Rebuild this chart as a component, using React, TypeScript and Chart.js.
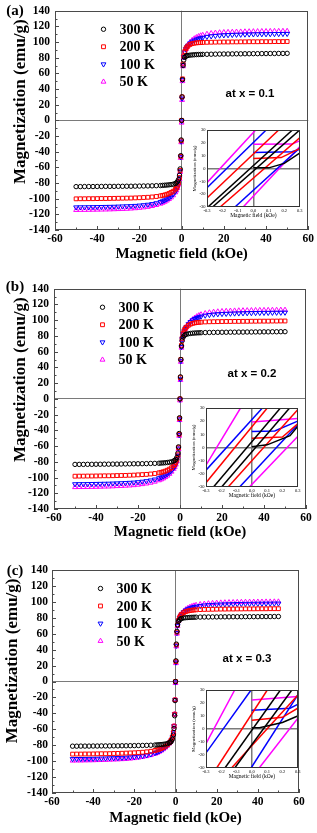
import React, { useEffect, useRef } from "react";
import { Chart, registerables } from "chart.js";

Chart.register(...registerables);

// ---------------- DATA ----------------
const TEMPS = ["300 K", "200 K", "100 K", "50 K"];

// magnetic field (kOe), shared by every main-panel series
const FIELD_KOE = [
  -50, -48, -46, -44, -42, -40, -38, -36,
  -34, -32, -30, -28, -26, -24, -22, -20,
  -18, -16, -14, -12, -10, -9, -8, -7,
  -6, -5, -4, -3, -2.5, -2, -1.5, -1,
  -0.7, -0.4, -0.2, 0, 0.2, 0.4, 0.7,
  1, 1.5, 2, 2.5, 3, 4, 5, 6,
  7, 8, 9, 10, 12, 14, 16, 18,
  20, 22, 24, 26, 28, 30, 32, 34,
  36, 38, 40, 42, 44, 46, 48, 50,
];

// (a) x = 0.1, magnetization (emu/g)
const M_A_300K = [
  -84.6, -84.6, -84.5, -84.5, -84.5, -84.4, -84.4, -84.3,
  -84.3, -84.3, -84.2, -84.2, -84.1, -84.1, -84.0, -83.9,
  -83.8, -83.7, -83.6, -83.4, -83.2, -83.0, -82.8, -82.6,
  -82.3, -82.0, -81.5, -80.6, -79.8, -78.4, -75.8, -70,
  -62, -45, -25, 0, 30, 52, 70,
  77, 80.5, 82, 82.5, 83, 83.3, 83.6, 83.8,
  84, 84.1, 84.2, 84.3, 84.4, 84.5, 84.6, 84.7,
  84.8, 84.8, 84.9, 85, 85, 85.1, 85.1, 85.2,
  85.2, 85.3, 85.3, 85.4, 85.4, 85.5, 85.5, 85.6,
];
const M_A_200K = [
  -100.2, -100.1, -100.1, -100, -100, -99.9, -99.8, -99.8,
  -99.7, -99.6, -99.5, -99.4, -99.3, -99.2, -99, -98.8,
  -98.5, -98.2, -97.8, -97.2, -96.4, -95.8, -95.2, -94.4,
  -93.4, -92, -90.5, -88, -86.5, -84, -80, -73,
  -64, -46, -26, 0, 30, 53, 72,
  82, 88, 91.5, 93.5, 95, 97, 98, 98.6,
  99, 99.2, 99.4, 99.5, 99.7, 99.8, 99.9, 100,
  100.1, 100.1, 100.2, 100.2, 100.3, 100.3, 100.4, 100.4,
  100.4, 100.5, 100.5, 100.5, 100.6, 100.6, 100.6, 100.7,
];
const M_A_100K = [
  -111, -110.9, -110.9, -110.8, -110.7, -110.6, -110.5, -110.4,
  -110.3, -110.2, -110, -109.8, -109.6, -109.4, -109.1, -108.7,
  -108.2, -107.6, -106.8, -105.7, -104.2, -103.2, -102, -100.6,
  -99, -97, -94.5, -91, -88.5, -85.5, -81, -74,
  -65, -47, -27, -1, 28, 52, 71,
  81, 87, 91, 93.5, 95.5, 98.5, 100.5, 102,
  103.3, 104.3, 105, 105.7, 106.8, 107.5, 108, 108.5,
  108.8, 109, 109.3, 109.5, 109.6, 109.8, 109.9, 110,
  110.1, 110.2, 110.2, 110.3, 110.4, 110.4, 110.5, 110.6,
];
const M_A_50K = [
  -114.5, -114.4, -114.4, -114.3, -114.2, -114.1, -114, -113.9,
  -113.8, -113.6, -113.4, -113.2, -113, -112.7, -112.3, -111.8,
  -111.2, -110.5, -109.5, -108.2, -106.5, -105.3, -104, -102.5,
  -100.6, -98.5, -95.8, -92, -89.5, -86.5, -82, -75,
  -66, -48, -28, -3, 26, 50, 69,
  80, 87, 91, 94, 96.5, 100, 102.5, 104.5,
  106, 107.3, 108.3, 109, 110.3, 111.2, 111.8, 112.2,
  112.5, 112.7, 112.9, 113.1, 113.2, 113.4, 113.5, 113.6,
  113.7, 113.8, 113.8, 113.9, 114, 114, 114.1, 114.1,
];

// (b) x = 0.2
const M_B_300K = [
  -83.3, -83.3, -83.3, -83.2, -83.2, -83.1, -83.1, -83.0,
  -83, -82.9, -82.9, -82.8, -82.7, -82.6, -82.5, -82.5,
  -82.4, -82.3, -82.1, -82, -81.8, -81.6, -81.4, -81.2,
  -80.9, -80.5, -80, -79, -78.2, -77, -74.5, -69,
  -61, -44, -24, 0, 28, 50, 67,
  74, 78.5, 80.5, 81.5, 82.2, 82.8, 83.2, 83.5,
  83.7, 83.9, 84, 84.1, 84.3, 84.4, 84.5, 84.6,
  84.7, 84.7, 84.8, 84.8, 84.9, 84.9, 85, 85,
  85.1, 85.1, 85.2, 85.2, 85.3, 85.3, 85.4, 85.4,
];
const M_B_200K = [
  -98.3, -98.2, -98.2, -98.1, -98.1, -98, -97.9, -97.8,
  -97.8, -97.7, -97.5, -97.4, -97.3, -97.1, -96.9, -96.6,
  -96.3, -96, -95.5, -94.9, -94, -93.4, -92.7, -91.8,
  -90.7, -89.3, -87.5, -85, -83.4, -81, -77.5, -71,
  -62, -45, -25, 0, 27, 50, 68,
  77, 83.5, 87, 89.5, 91.2, 93.5, 95, 96,
  96.6, 97, 97.3, 97.5, 97.8, 98, 98.1, 98.2,
  98.3, 98.4, 98.4, 98.5, 98.5, 98.6, 98.6, 98.7,
  98.7, 98.8, 98.8, 98.8, 98.9, 98.9, 99, 99,
];
const M_B_100K = [
  -108.4, -108.3, -108.3, -108.2, -108.1, -108, -107.9, -107.8,
  -107.7, -107.5, -107.3, -107.1, -106.9, -106.6, -106.3, -105.8,
  -105.2, -104.5, -103.6, -102.4, -100.8, -99.8, -98.6, -97.2,
  -95.5, -93.5, -91, -87.8, -85.6, -82.8, -78.8, -72,
  -63, -46, -26, -1, 25, 48, 66,
  76, 82.5, 86, 89, 91.3, 95, 97.8, 100,
  101.7, 103, 104, 104.8, 106, 106.8, 107.4, 107.8,
  108.1, 108.3, 108.5, 108.7, 108.8, 109, 109.1, 109.2,
  109.3, 109.4, 109.5, 109.5, 109.6, 109.7, 109.7, 109.8,
];
const M_B_50K = [
  -112.3, -112.2, -112.2, -112.1, -112, -111.9, -111.8, -111.6,
  -111.5, -111.3, -111, -110.8, -110.5, -110.2, -109.8, -109.2,
  -108.5, -107.7, -106.7, -105.4, -103.6, -102.5, -101.2, -99.6,
  -97.7, -95.4, -92.6, -89, -86.6, -83.6, -79.5, -73,
  -64, -47, -27, -2, 24, 47, 65,
  75, 82, 86, 89, 91.5, 95.5, 98.5, 101,
  103, 104.8, 106.2, 107.3, 108.8, 109.8, 110.5, 111,
  111.4, 111.7, 111.9, 112.1, 112.3, 112.4, 112.5, 112.6,
  112.7, 112.8, 112.8, 112.9, 113, 113, 113.1, 113.1,
];

// (c) x = 0.3
const M_C_300K = [
  -81.2, -81.2, -81.1, -81.1, -81.1, -81, -81, -80.9,
  -80.9, -80.9, -80.8, -80.8, -80.7, -80.7, -80.6, -80.5,
  -80.4, -80.3, -80.2, -80, -79.8, -79.6, -79.4, -79.2,
  -78.9, -78.5, -78, -77, -76.2, -75, -72.5, -67,
  -59, -43, -24, 0, 26, 47, 63,
  71, 75.5, 77.5, 78.5, 79.2, 79.8, 80.1, 80.3,
  80.5, 80.6, 80.7, 80.8, 80.9, 81, 81, 81.1,
  81.1, 81.2, 81.2, 81.2, 81.3, 81.3, 81.3, 81.4,
  81.4, 81.4, 81.4, 81.5, 81.5, 81.5, 81.6, 81.6,
];
const M_C_200K = [
  -91.2, -91.1, -91.1, -91, -91, -90.9, -90.8, -90.7,
  -90.7, -90.6, -90.4, -90.3, -90.1, -89.9, -89.7, -89.5,
  -89.2, -88.8, -88.3, -87.6, -86.6, -85.9, -85.1, -84.1,
  -82.9, -81.4, -79.5, -77, -75.4, -73.2, -70, -64,
  -56, -41, -23, 0, 25, 46, 62,
  71, 77, 80.5, 82.8, 84.5, 86.5, 87.8, 88.6,
  89.1, 89.5, 89.8, 90, 90.3, 90.5, 90.6, 90.7,
  90.8, 90.9, 90.9, 91, 91, 91.1, 91.1, 91.2,
  91.2, 91.2, 91.3, 91.3, 91.3, 91.4, 91.4, 91.4,
];
const M_C_100K = [
  -97.3, -97.2, -97.2, -97.1, -97, -96.9, -96.8, -96.6,
  -96.5, -96.3, -96.2, -96, -95.7, -95.4, -95.1, -94.8,
  -94.2, -93.5, -92.6, -91.4, -89.8, -88.8, -87.6, -86.2,
  -84.6, -82.6, -80.3, -77.5, -75.8, -73.5, -70, -64,
  -56, -41, -23, -1, 24, 45, 61,
  70, 76.5, 80, 82.5, 84.5, 87.3, 89.3, 90.8,
  92, 92.9, 93.6, 94.2, 95, 95.6, 96, 96.3,
  96.6, 96.8, 97, 97.1, 97.2, 97.4, 97.5, 97.6,
  97.6, 97.7, 97.8, 97.8, 97.9, 97.9, 98, 98,
];
const M_C_50K = [
  -99.4, -99.3, -99.3, -99.2, -99.1, -99, -98.8, -98.7,
  -98.5, -98.3, -98.1, -97.9, -97.6, -97.3, -96.9, -96.3,
  -95.6, -94.8, -93.8, -92.5, -90.8, -89.7, -88.4, -86.9,
  -85.1, -83, -80.6, -77.8, -76, -73.6, -70, -64,
  -56, -41, -23, -2, 23, 44, 60,
  69.5, 76, 80, 82.8, 85, 88.2, 90.5, 92.2,
  93.5, 94.5, 95.3, 96, 96.9, 97.5, 98, 98.4,
  98.7, 99, 99.2, 99.4, 99.5, 99.7, 99.8, 99.9,
  100, 100, 100.1, 100.1, 100.2, 100.2, 100.3, 100.3,
];

// Insets: [field (kOe), magnetization (emu/g)] points of each branch
const INS_A_300K_DESC = [[-0.294, -30], [0.253, 30]];
const INS_A_300K_ASC = [[-0.264, -30], [0.3, 30]];
const INS_A_300K_INIT = [[0, 0.5], [0.1, 0.5], [0.2, 4], [0.3, 12]];
const INS_A_200K_DESC = [[-0.3, -23], [0.164, 30]];
const INS_A_200K_ASC = [[-0.215, -30], [0.3, 24]];
const INS_A_200K_INIT = [[0, 7.8], [0.18, 8.5], [0.3, 15.5]];
const INS_A_100K_DESC = [[-0.3, -15], [0.083, 30]];
const INS_A_100K_ASC = [[-0.119, -30], [0.3, 16]];
const INS_A_100K_INIT = [[0, 12.5], [0.25, 13], [0.3, 15]];
const INS_A_50K_DESC = [[-0.3, -11], [0.015, 30]];
const INS_A_50K_ASC = [[-0.066, -30], [0.3, 17]];
const INS_A_50K_INIT = [[0, 18.8], [0.25, 19], [0.3, 21.5]];

const INS_B_300K_DESC = [[-0.251, -30], [0.187, 30]];
const INS_B_300K_ASC = [[-0.198, -30], [0.247, 30]];
const INS_B_300K_INIT = [[0, 0.6], [0.1, 2], [0.25, 9], [0.3, 16]];
const INS_B_200K_DESC = [[-0.3, -26.7], [0.101, 30]];
const INS_B_200K_ASC = [[-0.155, -30], [0.3, 28.7]];
const INS_B_200K_INIT = [[0, 7], [0.2, 8], [0.3, 18]];
const INS_B_100K_DESC = [[-0.3, -17.2], [0.069, 30]];
const INS_B_100K_ASC = [[-0.08, -30], [0.3, 17.2]];
const INS_B_100K_INIT = [[0, 12.1], [0.15, 12.5], [0.3, 20]];
const INS_B_50K_DESC = [[-0.3, -13.4], [-0.074, 30]];
const INS_B_50K_ASC = [[-0.016, -30], [0.3, 8.3]];
const INS_B_50K_INIT = [[0, 19.3], [0.3, 22]];

const INS_C_300K_DESC = [[-0.176, -30], [0.187, 30]];
const INS_C_300K_ASC = [[-0.112, -30], [0.262, 30]];
const INS_C_300K_INIT = [[0, 0.9], [0.05, 1], [0.2, 5], [0.3, 10]];
const INS_C_200K_DESC = [[-0.23, -30], [0.101, 30]];
const INS_C_200K_ASC = [[-0.133, -30], [0.3, 26]];
const INS_C_200K_INIT = [[0, 6.8], [0.2, 9], [0.3, 16]];
const INS_C_100K_DESC = [[-0.3, -18.4], [-0.005, 30]];
const INS_C_100K_ASC = [[-0.005, -30], [0.3, 26.1]];
const INS_C_100K_INIT = [[0, 14.5], [0.25, 16], [0.3, 19]];
const INS_C_50K_DESC = [[-0.3, -11.2], [-0.112, 30]];
const INS_C_50K_ASC = [[0.048, -30], [0.3, 8.1]];
const INS_C_50K_INIT = [[0, 22.3], [0.3, 25]];

const PANEL_LABELS = ["(a)", "(b)", "(c)"];
const PANEL_NOTES = ["at x = 0.1", "at x = 0.2", "at x = 0.3"];
const MAIN_SERIES = [
  [M_A_300K, M_A_200K, M_A_100K, M_A_50K],
  [M_B_300K, M_B_200K, M_B_100K, M_B_50K],
  [M_C_300K, M_C_200K, M_C_100K, M_C_50K],
];
const INSET_SERIES = [
  [
    [INS_A_300K_DESC, INS_A_300K_ASC, INS_A_300K_INIT],
    [INS_A_200K_DESC, INS_A_200K_ASC, INS_A_200K_INIT],
    [INS_A_100K_DESC, INS_A_100K_ASC, INS_A_100K_INIT],
    [INS_A_50K_DESC, INS_A_50K_ASC, INS_A_50K_INIT],
  ],
  [
    [INS_B_300K_DESC, INS_B_300K_ASC, INS_B_300K_INIT],
    [INS_B_200K_DESC, INS_B_200K_ASC, INS_B_200K_INIT],
    [INS_B_100K_DESC, INS_B_100K_ASC, INS_B_100K_INIT],
    [INS_B_50K_DESC, INS_B_50K_ASC, INS_B_50K_INIT],
  ],
  [
    [INS_C_300K_DESC, INS_C_300K_ASC, INS_C_300K_INIT],
    [INS_C_200K_DESC, INS_C_200K_ASC, INS_C_200K_INIT],
    [INS_C_100K_DESC, INS_C_100K_ASC, INS_C_100K_INIT],
    [INS_C_50K_DESC, INS_C_50K_ASC, INS_C_50K_INIT],
  ],
];

// ---------------- STYLE / LAYOUT ----------------
const SERIF = '"Liberation Serif", "Times New Roman", Times, serif';
const SANS = '"Liberation Sans", Arial, Helvetica, sans-serif';
const COLORS = ["#000000", "#ff0000", "#0000ff", "#ff00ff"];
const MARKERS = [
  { style: "circle", rot: 0, r: 2.2 },
  { style: "rect", rot: 0, r: 2.7 },
  { style: "triangle", rot: 180, r: 2.8 },
  { style: "triangle", rot: 0, r: 2.8 },
];
const FRAME = "#4a4a4a";
const ZERO = "#7a7a7a";

const LAYOUTS = [
  { top: 0, h: 278, yW: 55, pt: 9, pr: 7, pb: 15, xH: 33, yTitlePad: 10.8, yTickPad: 5, label: [15, 11], note: [250, 94],
    inset: { left: 188, top: 126, w: 116, h: 94 } },
  { top: 278, h: 277, yW: 54, pt: 7, pr: 11, pb: 14, xH: 32, yTitlePad: 10.8, yTickPad: 5, label: [15, 9], note: [252, 96],
    inset: { left: 187, top: 404, w: 115, h: 96 } },
  { top: 555, h: 278, yW: 52, pt: 15, pr: 18, pb: 6, xH: 34, yTitlePad: 2.5, yTickPad: 4, label: [15, 16], note: [247, 104],
    inset: { left: 187, top: 686, w: 115, h: 95 } },
];

function drawMarker(ctx, idx, x, y) {
  const m = MARKERS[idx];
  const r = m.r;
  ctx.beginPath();
  ctx.strokeStyle = COLORS[idx];
  ctx.lineWidth = 1;
  if (m.style === "circle") {
    ctx.arc(x, y, r, 0, Math.PI * 2);
  } else if (m.style === "rect") {
    const s = r * Math.SQRT1_2;
    ctx.rect(x - s, y - s, 2 * s, 2 * s);
  } else if (m.rot === 180) {
    ctx.moveTo(x - r * 0.87, y - r * 0.5);
    ctx.lineTo(x + r * 0.87, y - r * 0.5);
    ctx.lineTo(x, y + r);
    ctx.closePath();
  } else {
    ctx.moveTo(x - r * 0.87, y + r * 0.5);
    ctx.lineTo(x + r * 0.87, y + r * 0.5);
    ctx.lineTo(x, y - r);
    ctx.closePath();
  }
  ctx.stroke();
}

function zeroGrid(ctx) {
  return Math.abs(ctx.tick.value) < 1e-9 ? ZERO : "rgba(0,0,0,0)";
}

function mainDecor(panel) {
  const L = LAYOUTS[panel];
  return {
    id: "mainDecor" + panel,
    afterDraw(chart) {
      const { ctx, chartArea: a, scales } = chart;
      const xs = scales.x;
      const ys = scales.y;
      ctx.save();
      // inward ticks
      ctx.strokeStyle = FRAME;
      ctx.lineWidth = 1;
      ctx.beginPath();
      for (let v = -60; v <= 60; v += 10) {
        const px = Math.round(xs.getPixelForValue(v)) + 0.5;
        const len = v % 20 === 0 ? 4 : 2.5;
        ctx.moveTo(px, a.bottom);
        ctx.lineTo(px, a.bottom - len);
      }
      for (let v = -140; v <= 140; v += 10) {
        const py = Math.round(ys.getPixelForValue(v)) + 0.5;
        const len = v % 20 === 0 ? 4 : 2.5;
        ctx.moveTo(a.left, py);
        ctx.lineTo(a.left + len, py);
      }
      ctx.stroke();
      // frame
      ctx.strokeRect(Math.round(a.left) + 0.5, Math.round(a.top) + 0.5,
        Math.round(a.right - a.left) - 1, Math.round(a.bottom - a.top) - 1);
      // legend
      ctx.font = "bold 14px " + SERIF;
      ctx.textAlign = "left";
      ctx.textBaseline = "middle";
      TEMPS.forEach((t, i) => {
        const y = a.top + 18.5 + 17.5 * i;
        drawMarker(ctx, i, a.left + 48.5, y);
        ctx.fillStyle = "#000";
        ctx.fillText(t, a.left + 64.5, y + 1);
      });
      // panel label
      ctx.font = "bold 15px " + SERIF;
      ctx.textAlign = "center";
      ctx.fillText(PANEL_LABELS[panel], L.label[0], L.label[1]);
      // composition note
      ctx.font = "bold 11.5px " + SANS;
      ctx.fillText(PANEL_NOTES[panel], L.note[0], L.note[1]);
      ctx.restore();
    },
  };
}

function mainConfig(panel) {
  const L = LAYOUTS[panel];
  const series = MAIN_SERIES[panel];
  const tickFont = { family: SERIF, size: 11.5, weight: "bold", lineHeight: 1 };
  return {
    type: "scatter",
    data: {
      datasets: TEMPS.map((t, i) => ({
        label: t,
        data: FIELD_KOE.map((h, j) => ({ x: h, y: series[i][j] })),
        pointStyle: MARKERS[i].style,
        pointRotation: MARKERS[i].rot,
        pointRadius: MARKERS[i].r,
        pointBorderWidth: 1,
        borderColor: COLORS[i],
        backgroundColor: "rgba(0,0,0,0)",
        pointBackgroundColor: "rgba(0,0,0,0)",
        pointBorderColor: COLORS[i],
        showLine: false,
      })),
    },
    options: {
      animation: false,
      responsive: false,
      devicePixelRatio: 1,
      events: [],
      layout: { autoPadding: false, padding: { left: 0, right: L.pr, top: L.pt, bottom: L.pb } },
      plugins: { legend: { display: false }, tooltip: { enabled: false }, title: { display: false } },
      scales: {
        x: {
          type: "linear",
          min: -60,
          max: 60,
          ticks: { stepSize: 20, color: "#000", font: tickFont, padding: 3, autoSkip: false, maxRotation: 0, minRotation: 0 },
          grid: { drawTicks: false, color: zeroGrid, lineWidth: 1 },
          border: { display: false },
          title: { display: true, text: "Magnetic field (kOe)", color: "#000",
            font: { family: SERIF, size: 15, weight: "bold" }, padding: { top: 0, bottom: 0 } },
          afterFit: (s) => { s.height = L.xH; },
        },
        y: {
          type: "linear",
          min: -140,
          max: 140,
          ticks: { stepSize: 20, color: "#000", font: tickFont, padding: L.yTickPad, autoSkip: false },
          grid: { drawTicks: false, color: zeroGrid, lineWidth: 1 },
          border: { display: false },
          title: { display: true, text: "Magnetization (emu/g)  ", align: "end", color: "#000",
            font: { family: SERIF, size: 17, weight: "bold" }, padding: { top: L.yTitlePad, bottom: 0 } },
          afterFit: (s) => { s.width = L.yW; },
        },
      },
    },
    plugins: [mainDecor(panel)],
  };
}

const insetFrame = {
  id: "insetFrame",
  afterDraw(chart) {
    const { ctx, chartArea: a } = chart;
    ctx.save();
    ctx.strokeStyle = "#333";
    ctx.lineWidth = 1;
    ctx.strokeRect(Math.round(a.left) + 0.5, Math.round(a.top) + 0.5,
      Math.round(a.right - a.left) - 1, Math.round(a.bottom - a.top) - 1);
    ctx.restore();
  },
};

function insetConfig(panel) {
  const lines = INSET_SERIES[panel];
  const datasets = [];
  lines.forEach((branches, i) => {
    branches.forEach((pts) => {
      datasets.push({
        data: pts.map(([h, m]) => ({ x: h, y: m })),
        showLine: true,
        borderColor: COLORS[i],
        borderWidth: 1.5,
        pointRadius: 0,
        fill: false,
        tension: 0,
      });
    });
  });
  const tickFont = { family: SERIF, size: 4.5, lineHeight: 1 };
  return {
    type: "scatter",
    data: { datasets },
    options: {
      animation: false,
      responsive: false,
      devicePixelRatio: 1,
      events: [],
      layout: { autoPadding: false, padding: { left: 0, right: 3, top: 4, bottom: 1 } },
      plugins: { legend: { display: false }, tooltip: { enabled: false } },
      scales: {
        x: {
          type: "linear",
          min: -0.3,
          max: 0.3,
          ticks: { stepSize: 0.1, color: "#000", font: tickFont, padding: 1.5, autoSkip: false, maxRotation: 0, minRotation: 0,
            callback: (v) => Number(v).toFixed(1) },
          grid: { drawTicks: false, color: zeroGrid, lineWidth: 1.5 },
          border: { display: false },
          title: { display: true, text: "Magnetic field (kOe)", color: "#000",
            font: { family: SERIF, size: 5.5 }, padding: { top: 0, bottom: 0 } },
          afterFit: (s) => { s.height = 12; },
        },
        y: {
          type: "linear",
          min: -30,
          max: 30,
          ticks: { stepSize: 10, color: "#000", font: tickFont, padding: 1.5, autoSkip: false },
          grid: { drawTicks: false, color: zeroGrid, lineWidth: 1.5 },
          border: { display: false },
          title: { display: true, text: "Magnetization (emu/g)", color: "#000",
            font: { family: SERIF, size: 5 }, padding: { top: 4, bottom: 0 } },
          afterFit: (s) => { s.width = 19; },
        },
      },
    },
    plugins: [insetFrame],
  };
}

function ChartCanvas({ make, left, top, w, h }) {
  const ref = useRef(null);
  useEffect(() => {
    const chart = new Chart(ref.current, make());
    return () => chart.destroy();
  }, []);
  return (
    <canvas
      ref={ref}
      width={w}
      height={h}
      style={{ position: "absolute", left, top, width: w, height: h, display: "block" }}
    />
  );
}

export default function App() {
  return (
    <div style={{ position: "absolute", left: 0, top: 0, width: 317, height: 833, background: "#fff", overflow: "hidden" }}>
      {LAYOUTS.map((L, p) => (
        <React.Fragment key={p}>
          <ChartCanvas make={() => mainConfig(p)} left={0} top={L.top} w={317} h={L.h} />
          <ChartCanvas make={() => insetConfig(p)} left={L.inset.left} top={L.inset.top} w={L.inset.w} h={L.inset.h} />
        </React.Fragment>
      ))}
    </div>
  );
}
